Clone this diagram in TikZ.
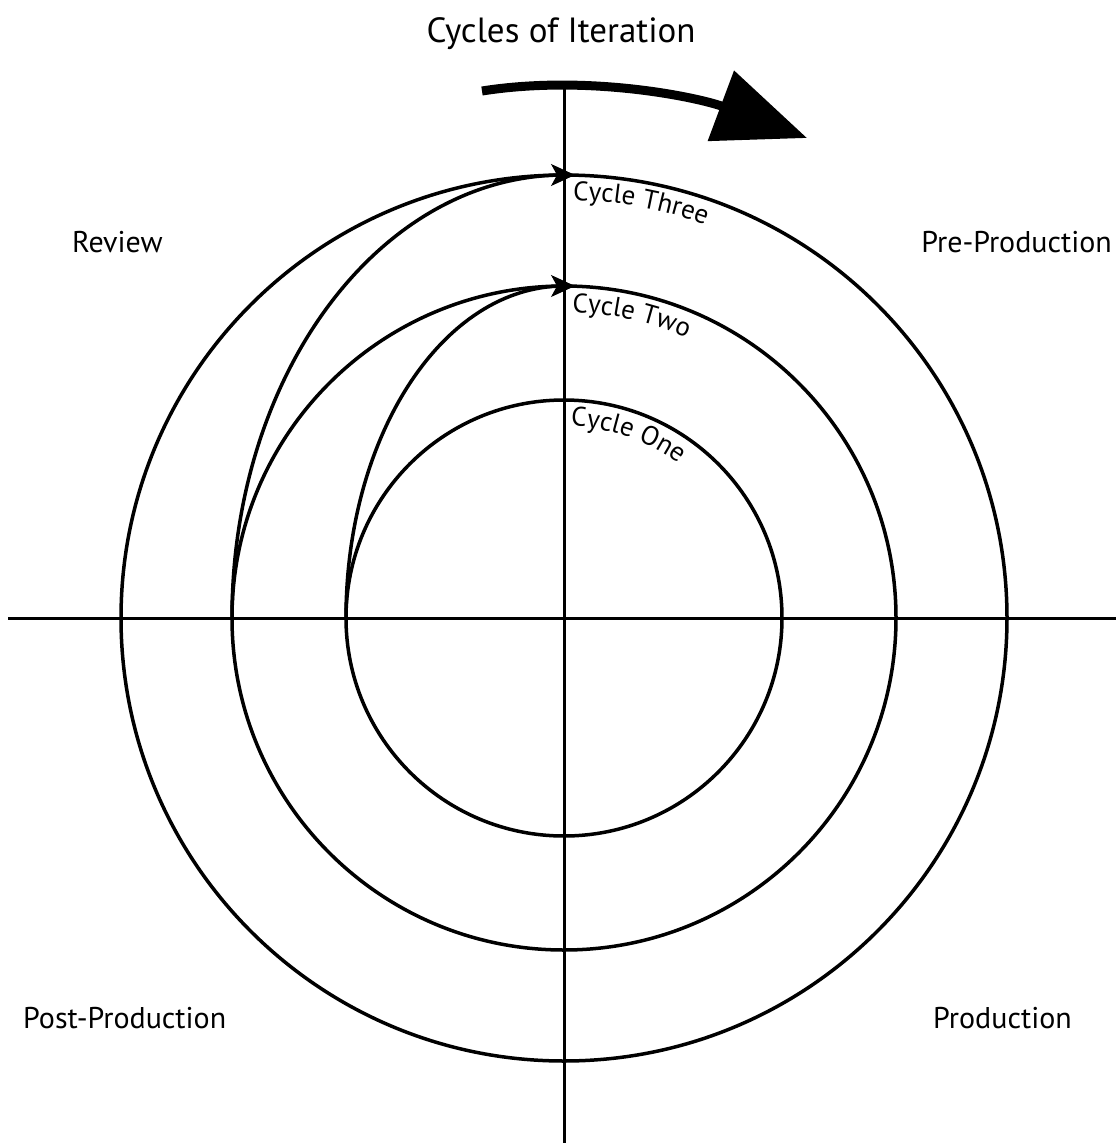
\documentclass[tikz,border=0pt]{standalone}
\usepackage{fontspec}
\setmainfont{PT Sans}
\usetikzlibrary{arrows.meta,decorations.text}
\newcommand\cycfont{\fontsize{27}{30}\selectfont}
\begin{document}
\begin{tikzpicture}[x=1pt,y=-1pt,
  ring/.style={line width=3.5pt},
  axisline/.style={line width=3pt},
  spiral/.style={line width=3.5pt},
  lbl/.style={font=\fontsize{30}{36}\selectfont, inner sep=0pt},
  smallhead/.style={line width=1pt,-{Stealth[length=24pt,width=22pt,inset=6pt]}},
  cyclabel/.style={decorate, decoration={text along path, text align=left, text={#1}}}
  ]
\useasboundingbox (0,0) rectangle (1116,1143);
\coordinate (C) at (564,618);
\coordinate (atop) at (564,88);
\coordinate (abot) at (564,1143);
\coordinate (aleft) at (8,618);
\coordinate (aright) at (1116,618);
% axes
\draw[axisline] (atop) -- (abot);
\draw[axisline] (aleft) -- (aright);
% rings
\draw[ring] (C) circle[radius=218];
\draw[ring] (C) circle[radius=332];
\draw[ring] (C) circle[radius=443];
% spiral arcs
\draw[spiral] (346,618) arc[start angle=180, end angle=270, x radius=218, y radius=332];
\draw[spiral] (232,618) arc[start angle=180, end angle=270, x radius=332, y radius=443];
\coordinate (h2a) at (552,286);
\coordinate (h2b) at (575,286);
\coordinate (h3a) at (552,175);
\coordinate (h3b) at (575,175);
\draw[smallhead] (h2a) -- (h2b);
\draw[smallhead] (h3a) -- (h3b);
% cycle labels
\path[cyclabel={|\cycfont|Cycle Three}] (C) ++(271.2:418) arc[start angle=271.2, end angle=340, radius=418];
\path[cyclabel={|\cycfont|Cycle Two}] (C) ++(271.5:306) arc[start angle=271.5, end angle=340, radius=306];
\path[cyclabel={|\cycfont|Cycle One}] (C) ++(272:192) arc[start angle=272, end angle=350, radius=192];
% big arrow
\coordinate (ba) at (482,91);
\coordinate (bb) at (807,138);
\draw[line width=9pt, -{Triangle[length=92pt,width=73pt]}] (ba) .. controls (590,74) and (700,98) .. (bb);
% labels
\node[lbl, anchor=base, font=\fontsize{35}{40}\selectfont] (title) at (561,42) {Cycles of Iteration};
\node[lbl, anchor=base west] (review) at (72,252) {Review};
\node[lbl, anchor=base east] (pre) at (1112,252) {Pre-Production};
\node[lbl, anchor=base west] (post) at (23,1028) {Post-Production};
\node[lbl, anchor=base west] (prod) at (933,1028) {Production};
\end{tikzpicture}
\end{document}
